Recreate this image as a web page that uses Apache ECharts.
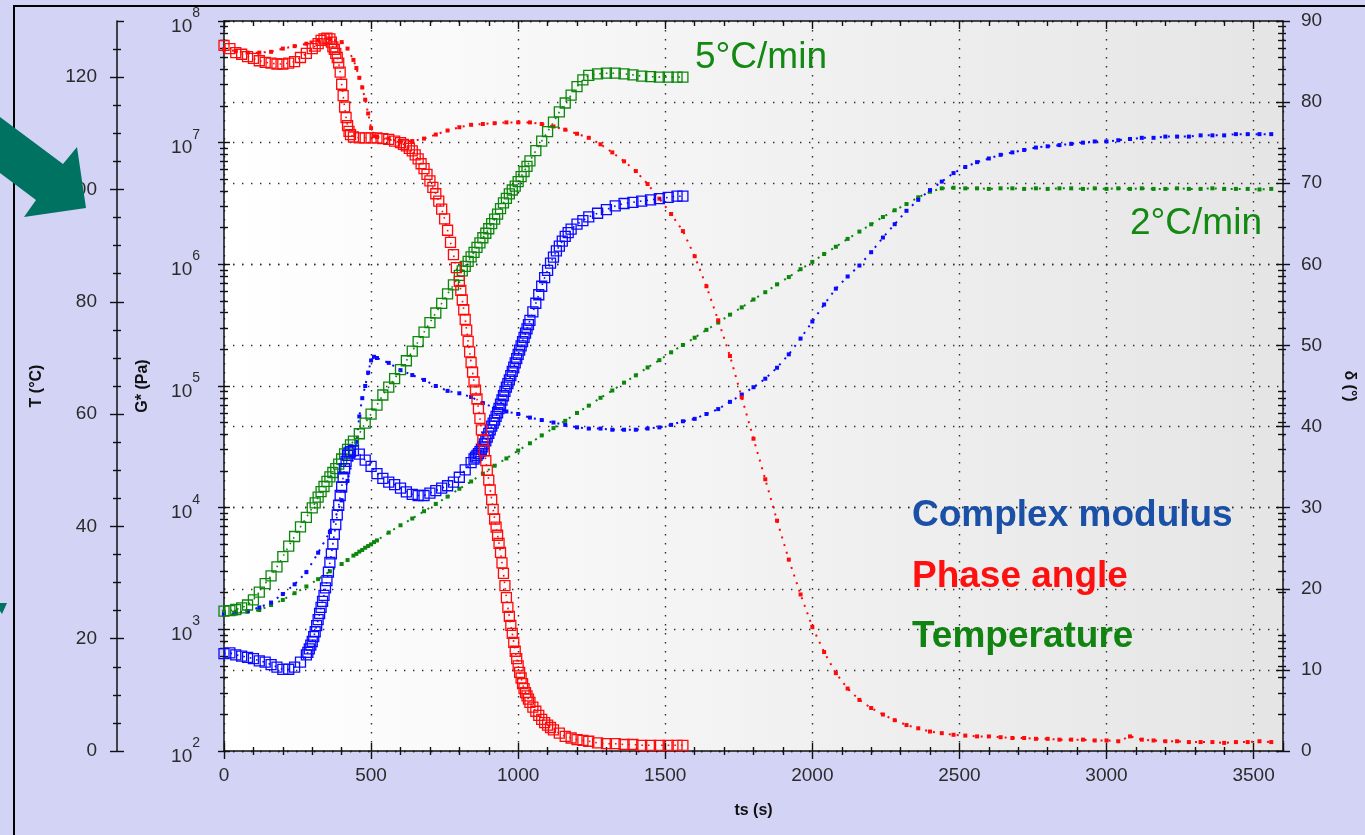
<!DOCTYPE html>
<html>
<head>
<meta charset="utf-8">
<title>Cure profiles: complex modulus, phase angle and temperature</title>
<script src="https://cdn.jsdelivr.net/npm/echarts@6/dist/echarts.min.js"></script>
<style>
  html, body { margin: 0; padding: 0; background: #d3d3f5; }
  #chart { width: 1365px; height: 835px; }
</style>
</head>
<body>
<div id="chart"></div>
<script>
// ---- 5 °C/min run (open squares); each quantity has its own sampling times ----
const modulusFastTime = [0,20,40,60,80,100,120,140,160,180,200,220,240,260,280,
  285,290,295,300,305,310,315,320,325,330,335,340,345,350,355,360,365,370,375,380,385,390,395,400,405,410,415,420,425,430,
  440,460,480,500,520,540,560,580,600,620,640,660,680,700,720,740,760,780,800,820,840,
  850,855,860,865,870,875,880,885,890,895,900,905,910,915,920,925,930,935,940,945,950,955,960,965,970,975,980,985,990,995,1000,1005,1010,1015,1020,1025,1030,1035,1040,
  1050,1060,1070,1080,1090,1100,1110,1120,1130,1140,1150,1160,1170,1180,1200,1220,1240,
  1270,1300,1330,1360,1390,1420,1450,1480,1510,1540,1560];
const modulusFast = [631,640,617,603,589,575,550,537,513,490,468,470,490,537,617,
  646,692,741,794,871,955,1072,1202,1349,1514,1698,1905,2188,2512,2951,3548,4169,5012,6026,7244,8710,10470,12590,14790,17780,20890,23990,26920,28180,28840,
  29510,27540,24550,21880,19050,17380,16220,15490,14450,13490,12880,12590,12590,13180,13800,14450,15140,16220,17780,20420,23440,
  25120,26000,26920,27860,28840,30200,31620,33500,35480,38020,40740,43650,46770,49550,52480,56230,60260,65310,70790,76740,83180,90160,97720,104700,112200,121600,131800,142900,154900,167900,182000,197200,213800,231700,251200,272300,295100,319900,346700,
  407400,478600,562300,660700,776200,891300,1023000,1148000,1288000,1413000,1549000,1698000,1820000,1950000,2138000,2291000,2455000,
  2630000,2818000,3020000,3162000,3236000,3311000,3388000,3467000,3548000,3631000,3631000];

const phaseFastTime = [0,20,40,60,80,100,120,140,160,180,200,220,240,260,280,300,
  310,320,330,340,350,360,365,370,375,380,385,390,395,400,405,410,415,420,425,430,440,
  460,480,500,520,540,560,580,600,
  610,620,630,640,650,660,670,680,690,700,710,720,730,740,750,760,770,780,790,
  800,805,810,815,820,825,830,835,840,845,850,855,860,865,870,875,880,885,890,895,900,905,910,915,920,925,930,935,940,945,950,955,960,965,970,975,980,985,990,995,1000,1005,1010,1015,1020,1025,1030,1035,1040,
  1050,1060,1070,1080,1090,1100,1110,1120,
  1140,1160,1180,1200,1220,1240,
  1270,1300,1330,1360,1390,1420,1450,1480,1510,1540,1560];
const phaseFast = [87.0,86.6,86.1,85.9,85.6,85.4,85.1,84.9,84.8,84.7,84.7,84.8,85.0,85.5,86.0,86.6,
  86.9,87.2,87.6,87.8,87.9,87.8,87.4,86.8,86.5,86.0,85.5,84.8,83.7,82.2,80.8,79.4,78.1,77.1,76.4,76.0,75.7,
  75.6,75.6,75.6,75.6,75.5,75.4,75.2,75.0,
  74.8,74.6,74.3,74.0,73.5,73.0,72.4,71.8,71.1,70.3,69.5,68.7,67.8,66.8,65.6,64.2,62.7,61.2,59.6,
  57.9,56.8,55.6,54.4,53.2,51.9,50.5,49.2,47.9,46.7,45.5,44.5,43.4,42.2,41.0,39.6,38.3,37.0,35.8,34.6,33.4,32.2,31.0,29.8,28.6,27.6,26.6,25.6,24.5,23.2,21.9,20.4,18.9,17.7,16.6,15.5,14.5,13.4,12.3,11.4,10.5,9.7,9.0,8.3,7.7,7.2,6.8,6.4,6.0,
  5.4,4.9,4.4,3.9,3.5,3.2,2.9,2.6,
  2.2,1.8,1.6,1.4,1.3,1.2,
  1.0,0.9,0.9,0.8,0.8,0.7,0.7,0.7,0.7,0.7,0.7];

const tempFastTime = [0,20,40,60,80,100,120,140,160,180,200,220,240,260,280,300,
  310,320,330,340,350,360,370,380,390,400,410,420,430,440,
  460,480,500,520,540,560,580,600,620,640,660,680,700,720,740,760,780,800,
  810,820,830,840,850,860,870,880,890,900,910,920,930,940,950,960,970,980,990,1000,1010,1020,1030,1040,
  1060,1080,1100,1120,1140,1160,1180,1200,1220,1240,
  1270,1300,1330,1360,1390,1420,1450,1480,1510,1540,1560];
const tempFast = [24.9,25.0,25.2,25.5,26.0,26.9,28.3,29.8,31.2,32.8,34.6,36.5,38.2,39.9,41.6,43.3,
  44.2,45.2,46.2,47.1,48.0,48.8,49.6,50.3,51.1,52.0,52.9,53.7,54.5,55.2,
  56.5,58.4,60.0,61.6,63.4,64.8,66.3,67.9,69.5,71.2,72.9,74.6,76.3,78.0,79.7,81.4,83.0,84.7,
  85.5,86.3,87.2,88.0,88.8,89.7,90.5,91.4,92.2,93.0,93.9,94.7,95.6,96.6,97.6,98.4,99.2,99.9,100.6,101.4,102.3,103.2,104.1,105.1,
  106.9,108.6,110.3,112.0,113.8,115.4,116.8,118.3,119.5,120.3,
  120.6,120.7,120.7,120.6,120.4,120.2,120.1,120.0,120.0,120.0,120.0];

// ---- 2 °C/min run (small dots) ----
const timeSlow = [0,40,80,120,160,200,240,280,320,360,400,
  420,440,450,460,470,480,490,500,510,520,
  560,600,640,680,720,760,800,840,880,920,960,1000,1040,1080,1120,1160,1200,1240,1280,1320,1360,1400,1440,1480,1520,1560,
  1600,1640,1680,1720,1760,1800,1840,1880,1920,1960,2000,2040,2080,2120,2160,2200,2240,2280,2320,2360,
  2400,2440,2480,2520,2560,2600,2640,2680,2720,2760,2800,2840,2880,2920,2960,3000,3040,3080,3120,3160,
  3200,3240,3280,3320,3360,3400,3440,3480,3520,3560];
const modulusSlow = [1318,1349,1413,1514,1660,1950,2344,2951,4266,6310,11480,
  16600,26300,34700,56200,79400,100000,128800,162200,173800,169800,
  154900,134900,123000,112200,100000,91200,87100,81300,72400,66100,61700,58900,55000,52500,50100,47900,45700,44700,44700,43700,43700,43700,44700,45700,47900,51300,
  53700,58900,64600,74100,85100,97700,114800,141300,182000,245500,338800,467700,631000,794300,977200,1259000,1660000,2138000,2754000,3388000,
  4074000,4786000,5623000,6310000,6918000,7413000,7943000,8318000,8710000,9120000,9333000,9550000,9772000,10000000,10230000,10230000,10470000,10720000,10960000,10960000,
  11220000,11220000,11220000,11480000,11480000,11480000,11750000,11750000,11750000,11750000];
const phaseSlow = [86.5,86.3,86.1,86.1,86.2,86.6,86.9,87.2,87.6,87.8,87.4,
  86.6,85.2,84.2,83.0,81.8,80.3,78.6,76.8,75.8,75.7,
  75.5,75.1,75.2,75.5,76.0,76.5,76.9,77.2,77.3,77.4,77.5,77.5,77.5,77.3,77.0,76.6,76.1,75.6,74.8,73.8,72.7,71.5,69.9,68.1,66.2,64.1,
  61.0,57.3,53.1,48.7,43.6,38.5,33.5,28.4,23.6,19.3,15.3,12.2,9.6,7.7,6.3,5.3,4.5,3.8,3.2,2.8,
  2.4,2.2,2.0,1.9,1.8,1.8,1.7,1.6,1.6,1.5,1.5,1.4,1.4,1.4,1.3,1.3,1.2,1.8,1.4,1.3,
  1.2,1.2,1.1,1.1,1.1,1.0,1.1,1.1,1.2,1.1];
const tempSlow = [24.8,24.8,24.8,25.1,26.0,26.9,28.1,29.3,30.6,32.0,33.3,
  34.0,34.8,35.1,35.5,35.8,36.2,36.5,36.8,37.2,37.5,
  38.9,40.2,41.4,42.7,44.0,45.3,46.7,48.0,49.4,50.8,52.1,53.5,54.8,56.2,57.5,58.8,60.2,61.5,62.9,64.2,65.6,66.9,68.3,69.6,71.0,72.3,
  73.6,75.0,76.3,77.7,79.0,80.4,81.7,83.1,84.4,85.8,87.1,88.5,89.8,91.2,92.5,93.8,95.1,96.3,97.4,98.6,
  99.6,100.2,100.3,100.2,100.2,100.1,100.2,100.2,100.1,100.2,100.1,100.2,100.2,100.1,100.2,100.1,100.2,100.1,100.2,100.1,
  100.1,100.2,100.1,100.1,100.2,100.1,100.1,100.1,100.0,100.1];

// ---- axis tick positions ----
const timeTickValues = [0,500,1000,1500,2000,2500,3000,3500];
const timeMinorTicks = [100,200,300,400,600,700,800,900,1100,1200,1300,1400,1600,1700,1800,1900,
  2100,2200,2300,2400,2600,2700,2800,2900,3100,3200,3300,3400];
const tempMinorTicks = [5,10,15,25,30,35,45,50,55,65,70,75,85,90,95,105,110,115,125];
const modulusMinorTicks = [2e2,3e2,4e2,5e2,6e2,7e2,8e2,9e2, 2e3,3e3,4e3,5e3,6e3,7e3,8e3,9e3,
  2e4,3e4,4e4,5e4,6e4,7e4,8e4,9e4, 2e5,3e5,4e5,5e5,6e5,7e5,8e5,9e5,
  2e6,3e6,4e6,5e6,6e6,7e6,8e6,9e6, 2e7,3e7,4e7,5e7,6e7,7e7,8e7,9e7];

const BLUE = '#0a0aff', RED = '#ff0a0a', GREEN = '#0c860c';
const INK = '#111111', LABEL = '#2b2b2b';
const FONT = '"Liberation Sans", Arial, sans-serif';
const gridDots = { color: '#2e2e2e', width: 1.4, type: [1.4, 7.6] };

const pairs = (xs, ys) => xs.map((x, i) => [x, ys[i]]);

// axis that only contributes tick marks (used to make ticks cross the axis line)
function tickOnly(base, tick) {
  return Object.assign({}, base, {
    axisLine: { show: false, onZero: false },
    axisLabel: { show: false },
    splitLine: { show: false },
    axisTick: Object.assign({ show: true, lineStyle: { color: INK, width: 1.4 } }, tick)
  });
}

const xBottom = { type: 'value', min: 0, max: 3600, interval: 500, position: 'bottom' };
const xTop = { type: 'value', min: 0, max: 3600, interval: 500, position: 'top' };
const yModLeft = { type: 'log', min: 100, max: 1e8, position: 'left' };
const yModRight = { type: 'log', min: 100, max: 1e8, position: 'right' };
const yPhase = { type: 'value', min: 0, max: 90, interval: 10, position: 'right' };
const yTemp = { type: 'value', min: 0, max: 130, interval: 20, position: 'left', offset: 107 };

const axisName = { fontWeight: 'bold', fontSize: 16, color: INK, fontFamily: FONT };
const tickLabel = { fontSize: 19, color: LABEL, fontFamily: FONT };

const xAxis = [
  Object.assign({}, xBottom, {
    axisLine: { onZero: false, lineStyle: { color: INK, width: 1.5 } },
    axisTick: { length: 8, lineStyle: { color: INK, width: 1.4 } },
    axisLabel: Object.assign({ margin: 15, showMaxLabel: false, formatter: v => String(v) }, tickLabel),
    splitLine: { show: true, lineStyle: gridDots },
    name: 'ts (s)', nameLocation: 'middle', nameGap: 52, nameTextStyle: axisName
  }),
  tickOnly(xBottom, { inside: true, length: 8 }),
  tickOnly(xBottom, { customValues: timeMinorTicks, length: 4 }),
  tickOnly(xBottom, { customValues: timeMinorTicks, inside: true, length: 4 }),
  Object.assign(tickOnly(xTop, { customValues: timeMinorTicks, inside: true, length: 5 }), {
    axisLine: { show: true, onZero: false, lineStyle: { color: INK, width: 1.5 } }
  }),
  tickOnly(xTop, { customValues: timeTickValues, inside: true, length: 8 })
];

const yAxis = [
  // 0: complex modulus, log scale
  Object.assign({}, yModLeft, {
    axisLine: { show: true, onZero: false, lineStyle: { color: INK, width: 1.5 } },
    axisTick: { length: 6, lineStyle: { color: INK, width: 1.4 } },
    axisLabel: {
      margin: 24,
      formatter: v => '{b|10}{e|' + Math.round(Math.log10(v)) + '}',
      rich: {
        b: { fontSize: 19, color: LABEL, fontFamily: FONT, lineHeight: 30, verticalAlign: 'bottom' },
        e: { fontSize: 14, color: LABEL, fontFamily: FONT, lineHeight: 14, verticalAlign: 'top' }
      }
    },
    splitLine: { show: true, lineStyle: gridDots },
    name: 'G* (Pa)', nameLocation: 'middle', nameGap: 73, nameTextStyle: axisName
  }),
  tickOnly(yModLeft, { inside: true, length: 6 }),
  tickOnly(yModLeft, { customValues: modulusMinorTicks, length: 4 }),
  tickOnly(yModLeft, { customValues: modulusMinorTicks, inside: true, length: 4 }),
  tickOnly(yModRight, { customValues: modulusMinorTicks, length: 3 }),
  tickOnly(yModRight, { customValues: modulusMinorTicks, inside: true, length: 5 }),
  // 6: phase angle
  Object.assign({}, yPhase, {
    axisLine: { show: true, onZero: false, lineStyle: { color: INK, width: 1.5 } },
    axisTick: { length: 7, lineStyle: { color: INK, width: 1.4 } },
    axisLabel: Object.assign({ margin: 18 }, tickLabel),
    splitLine: { show: true, lineStyle: gridDots },
    name: 'δ (°)', nameLocation: 'middle', nameGap: 58, nameRotate: -90, nameTextStyle: axisName
  }),
  tickOnly(yPhase, { inside: true, length: 7 }),
  // 8: temperature
  Object.assign({}, yTemp, {
    axisLine: { show: true, onZero: false, lineStyle: { color: INK, width: 1.5 } },
    axisTick: { length: 7, lineStyle: { color: INK, width: 1.4 } },
    axisLabel: Object.assign({ margin: 20, showMaxLabel: false }, tickLabel),
    splitLine: { show: false },
    name: 'T (°C)', nameLocation: 'middle', nameGap: 72, nameTextStyle: axisName
  }),
  tickOnly(yTemp, { inside: true, length: 7 }),
  tickOnly(yTemp, { customValues: tempMinorTicks, length: 4 }),
  tickOnly(yTemp, { customValues: tempMinorTicks, inside: true, length: 4 })
];

function squares(name, data, yIdx, color) {
  return {
    name, type: 'line', xAxisIndex: 0, yAxisIndex: yIdx, data,
    symbol: 'rect', symbolSize: 10, showSymbol: true,
    itemStyle: { color: 'rgba(255,255,255,0)', borderColor: color, borderWidth: 1.3 },
    lineStyle: { color, width: 1.6, type: [1.6, 5] },
    z: 4, silent: true
  };
}
function dots(name, data, yIdx, color) {
  return {
    name, type: 'line', xAxisIndex: 0, yAxisIndex: yIdx, data,
    symbol: 'rect', symbolSize: 4, showSymbol: true,
    itemStyle: { color, borderWidth: 0 },
    lineStyle: { color, width: 2, type: [2, 6] },
    z: 3, silent: true
  };
}

const chart = echarts.init(document.getElementById('chart'), null, { renderer: 'canvas' });
chart.setOption({
  animation: false,
  backgroundColor: '#d3d3f5',
  grid: {
    left: 224, right: 81, top: 21, bottom: 84, show: true, borderWidth: 0,
    backgroundColor: new echarts.graphic.LinearGradient(0, 0, 1, 0, [
      { offset: 0, color: '#ffffff' }, { offset: 1, color: '#e5e5e5' }
    ])
  },
  xAxis, yAxis,
  series: [
    dots('Temperature 2 °C/min', pairs(timeSlow, tempSlow), 8, GREEN),
    dots('Complex modulus 2 °C/min', pairs(timeSlow, modulusSlow), 0, BLUE),
    dots('Phase angle 2 °C/min', pairs(timeSlow, phaseSlow), 6, RED),
    squares('Temperature 5 °C/min', pairs(tempFastTime, tempFast), 8, GREEN),
    squares('Complex modulus 5 °C/min', pairs(modulusFastTime, modulusFast), 0, BLUE),
    squares('Phase angle 5 °C/min', pairs(phaseFastTime, phaseFast), 6, RED)
  ],
  graphic: [
    { type: 'rect', z: 1, shape: { x: 14, y: 6, width: 1400, height: 900 },
      style: { fill: 'none', stroke: '#000', lineWidth: 2 } },
    { type: 'polygon', z: 60,
      shape: { points: [[0,117],[63,164],[77,147],[86,208],[24,217],[36,200],[0,173]] },
      style: { fill: '#007262' } },
    { type: 'polygon', z: 60,
      shape: { points: [[0,603],[7,603],[2,614],[0,611]] },
      style: { fill: '#007262' } },
    { type: 'text', z: 60, style: { x: 695, y: 58, text: '5°C/min', fill: '#128a12',
      font: 'normal 37px ' + FONT, textVerticalAlign: 'middle' } },
    { type: 'text', z: 60, style: { x: 1130, y: 224, text: '2°C/min', fill: '#128a12',
      font: 'normal 37px ' + FONT, textVerticalAlign: 'middle' } },
    { type: 'text', z: 60, style: { x: 912, y: 516, text: 'Complex modulus', fill: '#1a50a6',
      font: 'bold 37px ' + FONT, textVerticalAlign: 'middle' } },
    { type: 'text', z: 60, style: { x: 912, y: 577, text: 'Phase angle', fill: '#ff1010',
      font: 'bold 37px ' + FONT, textVerticalAlign: 'middle' } },
    { type: 'text', z: 60, style: { x: 912, y: 637, text: 'Temperature', fill: '#118311',
      font: 'bold 37px ' + FONT, textVerticalAlign: 'middle' } }
  ]
});
</script>
</body>
</html>
